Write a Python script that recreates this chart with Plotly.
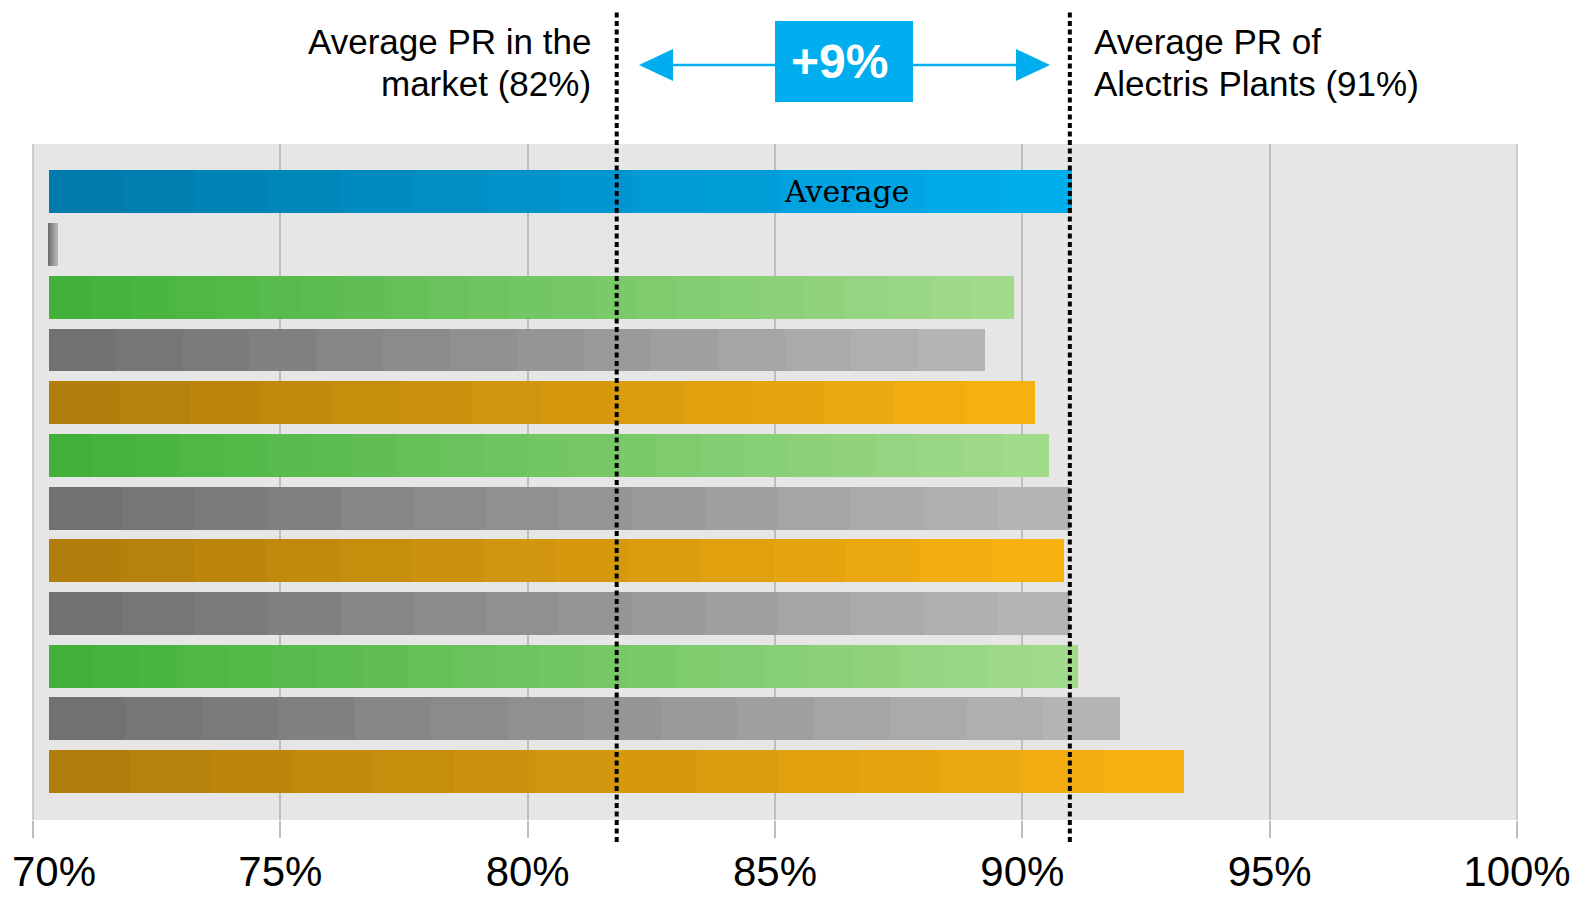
import plotly.graph_objects as go

# ---------------- data ----------------
bar_values = [91.0, 70.5, 89.83, 89.25, 90.26, 90.53, 90.96, 90.84, 90.96, 91.12, 91.97, 93.26]
bar_groups = ["blue", "gray", "green", "gray", "orange", "green", "gray", "orange",
              "gray", "green", "gray", "orange"]
bar_labels = ["Average", "", "", "", "", "", "", "", "", "", "", ""]
bar_base = 70.32
market_avg = 81.8
alectris_avg = 90.96
x_tick_vals = [70, 75, 80, 85, 90, 95, 100]
x_tick_text = ["70%", "75%", "80%", "85%", "90%", "95%", "100%"]
diff_label = "+9%"
market_lines = ["Average PR in the", "market (82%)"]
alectris_lines = ["Average PR of", "Alectris Plants (91%)"]

# ---------------- styles ----------------
palettes = {
    "blue": ("#007BAB", "#00AEEE", 14),
    "green": ("#42B13A", "#A2DB8C", 23),
    "gray": ("#717171", "#B4B4B4", 14),
    "orange": ("#B17E0C", "#F6B10F", 14),
}
ACCENT = "#00AEEF"
SANS = "Liberation Sans, Arial, sans-serif"
X0, X1 = 70, 100
PL, PT, PW, PH = 33, 144, 1484, 676


def hex2rgb(h):
    h = h.lstrip("#")
    return tuple(int(h[i:i + 2], 16) for i in (0, 2, 4))


def mix(c0, c1, t):
    a, b = hex2rgb(c0), hex2rgb(c1)
    return "rgb(%d,%d,%d)" % tuple(round(a[i] + (b[i] - a[i]) * t) for i in range(3))


def xp(v):  # data x -> paper x
    return (v - X0) / (X1 - X0)


def px(x):  # pixel x -> paper x
    return (x - PL) / PW


def py(y):  # pixel y -> paper y
    return (PT + PH - y) / PH


fig = go.Figure()

for i, (v, g) in enumerate(zip(bar_values, bar_groups)):
    c0, c1, n = palettes[g]
    step = (v - bar_base) / n
    bases = [bar_base + k * step for k in range(n)]
    widths = [step * 1.0005] * n
    colors = [mix(c0, c1, k / (n - 1)) for k in range(n)]
    fig.add_trace(go.Bar(
        y=[i] * n, x=widths, base=bases, orientation="h",
        marker=dict(color=colors, line=dict(width=0)),
        width=0.815, hoverinfo="skip", showlegend=False,
    ))

for i, lab in enumerate(bar_labels):
    if lab:
        fig.add_annotation(x=86.45, y=i, xref="x", yref="y", text=lab, showarrow=False,
                           font=dict(family="DejaVu Serif, serif", size=30, color="black"))

shapes = []
for xv in (X0, X1):
    shapes.append(dict(type="line", xref="paper", yref="paper", x0=xp(xv), x1=xp(xv),
                       y0=0, y1=1, line=dict(color="#BDBDBD", width=1.5), layer="below"))
for xv in (market_avg, alectris_avg):
    shapes.append(dict(type="line", xref="paper", yref="paper", x0=xp(xv), x1=xp(xv),
                       y0=py(842), y1=py(12),
                       line=dict(color="black", width=4, dash="5px,3.5px")))

ay = py(65)
shapes.append(dict(type="line", xref="paper", yref="paper", x0=px(672), x1=px(776), y0=ay, y1=ay,
                   line=dict(color=ACCENT, width=2.5)))
shapes.append(dict(type="line", xref="paper", yref="paper", x0=px(912), x1=px(1017), y0=ay, y1=ay,
                   line=dict(color=ACCENT, width=2.5)))
shapes.append(dict(type="path", xref="paper", yref="paper",
                   path="M %f,%f L %f,%f L %f,%f Z" % (px(639), ay, px(673), py(49), px(673), py(81)),
                   fillcolor=ACCENT, line=dict(width=0)))
shapes.append(dict(type="path", xref="paper", yref="paper",
                   path="M %f,%f L %f,%f L %f,%f Z" % (px(1050), ay, px(1016), py(49), px(1016), py(81)),
                   fillcolor=ACCENT, line=dict(width=0)))
shapes.append(dict(type="rect", xref="paper", yref="paper", x0=px(775), x1=px(913),
                   y0=py(102), y1=py(21), fillcolor=ACCENT, line=dict(width=0)))
fig.update_layout(shapes=shapes)

fig.add_annotation(xref="paper", yref="paper", x=px(839), y=py(61), text="<b>%s</b>" % diff_label,
                   showarrow=False, font=dict(family=SANS, size=48, color="white"),
                   xanchor="center", yanchor="middle")

line_ys = [41.5, 83.5]
for txt, yy in zip(market_lines, line_ys):
    fig.add_annotation(xref="paper", yref="paper", x=px(593), y=py(yy), text=txt,
                       showarrow=False, xanchor="right", yanchor="middle", align="right",
                       font=dict(family=SANS, size=35, color="black"))
for txt, yy in zip(alectris_lines, line_ys):
    fig.add_annotation(xref="paper", yref="paper", x=px(1092), y=py(yy), text=txt,
                       showarrow=False, xanchor="left", yanchor="middle", align="left",
                       font=dict(family=SANS, size=35, color="black"))

# first tick label is shifted inward (left-aligned to the canvas edge)
tick_text_axis = [""] + x_tick_text[1:]
fig.add_annotation(xref="paper", yref="paper", x=px(10), y=py(871), text=x_tick_text[0],
                   showarrow=False, xanchor="left", yanchor="middle",
                   font=dict(family=SANS, size=42, color="black"))

fig.update_layout(
    width=1596, height=897,
    margin=dict(l=PL, r=1596 - PL - PW, t=PT, b=897 - PT - PH, pad=0, autoexpand=False),
    paper_bgcolor="white", plot_bgcolor="#E6E6E6",
    barmode="overlay", bargap=0,
    xaxis=dict(range=[X0, X1], tickvals=x_tick_vals, ticktext=tick_text_axis,
               showgrid=True, gridcolor="#BDBDBD", gridwidth=1.5, zeroline=False,
               ticks="outside", ticklen=17, tickcolor="#BDBDBD", tickwidth=1.5,
               ticklabelstandoff=-2, automargin=False,
               tickfont=dict(family=SANS, size=42, color="black"), showline=False, fixedrange=True),
    yaxis=dict(range=[11.92, -0.91], showgrid=False, zeroline=False, showticklabels=False,
               ticks="", fixedrange=True, automargin=False),
    showlegend=False,
)

fig.write_html("out.html")
